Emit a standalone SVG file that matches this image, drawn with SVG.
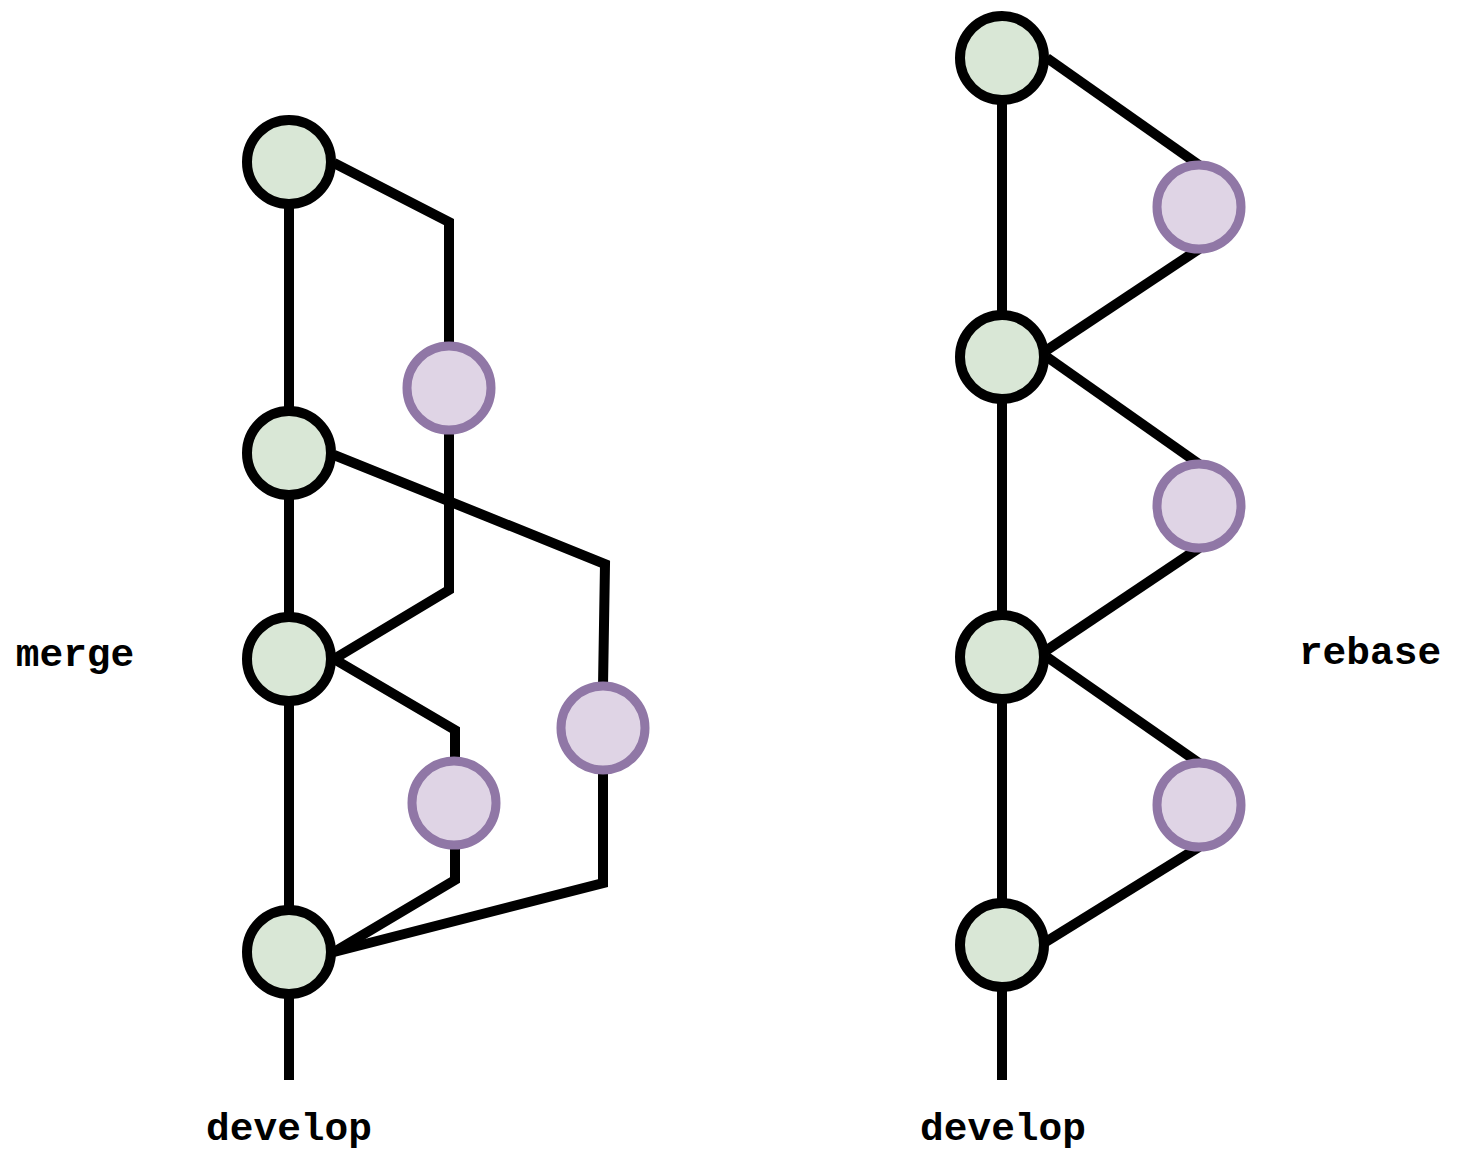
<svg xmlns="http://www.w3.org/2000/svg" width="1464" height="1168" viewBox="0 0 1464 1168">
<style>
.g{fill:#d9e7d6;stroke:#000;stroke-width:10}
.p{fill:#dfd4e5;stroke:#9077a6;stroke-width:9}
.c{fill:none;stroke:#000;stroke-width:10;stroke-linejoin:miter}
.t{font-family:"Liberation Mono","Courier New",monospace;font-weight:bold;font-size:39.5px;fill:#000;text-anchor:middle}
</style>
<rect width="1464" height="1168" fill="#fff"/>
<g id="connectors">
<path class="c" d="M289,207V408M289,498V614M289,704V907M289,997V1080"/>
<path class="c" d="M334,163L449,222V347"/>
<path class="c" d="M449,432V590L334,659"/>
<path class="c" d="M334,455L605,564L603,686"/>
<path class="c" d="M334,659L455,730V761"/>
<path class="c" d="M455,846V880L334,952"/>
<path class="c" d="M603,770V883L334,952"/>
<path class="c" d="M1002,103V312M1002,402V612M1002,702V900M1002,990V1080"/>
<path class="c" d="M1047,58L1199,165"/>
<path class="c" d="M1199,249L1044,352"/>
<path class="c" d="M1047,357L1199,464"/>
<path class="c" d="M1199,548L1044,652"/>
<path class="c" d="M1047,657L1199,763"/>
<path class="c" d="M1199,847L1044,943"/>
</g>
<g id="m1"><circle class="g" cx="289" cy="162" r="42"/></g>
<g id="m2"><circle class="g" cx="289" cy="453" r="42"/></g>
<g id="m3"><circle class="g" cx="289" cy="659" r="42"/></g>
<g id="m4"><circle class="g" cx="289" cy="952" r="42"/></g>
<g id="mp1"><circle class="p" cx="449" cy="388" r="42"/></g>
<g id="mp2"><circle class="p" cx="454" cy="803" r="42"/></g>
<g id="mp3"><circle class="p" cx="603" cy="728" r="42"/></g>
<g id="r1"><circle class="g" cx="1002" cy="58" r="42"/></g>
<g id="r2"><circle class="g" cx="1002" cy="357" r="42"/></g>
<g id="r3"><circle class="g" cx="1002" cy="657" r="42"/></g>
<g id="r4"><circle class="g" cx="1002" cy="945" r="42"/></g>
<g id="rp1"><circle class="p" cx="1199" cy="207" r="42"/></g>
<g id="rp2"><circle class="p" cx="1199" cy="506" r="42"/></g>
<g id="rp3"><circle class="p" cx="1199" cy="805" r="42"/></g>
<g id="labels">
<text class="t" x="75" y="666">merge</text>
<text class="t" x="289" y="1140">develop</text>
<text class="t" x="1003" y="1140">develop</text>
<text class="t" x="1370" y="664">rebase</text>
</g>
</svg>
